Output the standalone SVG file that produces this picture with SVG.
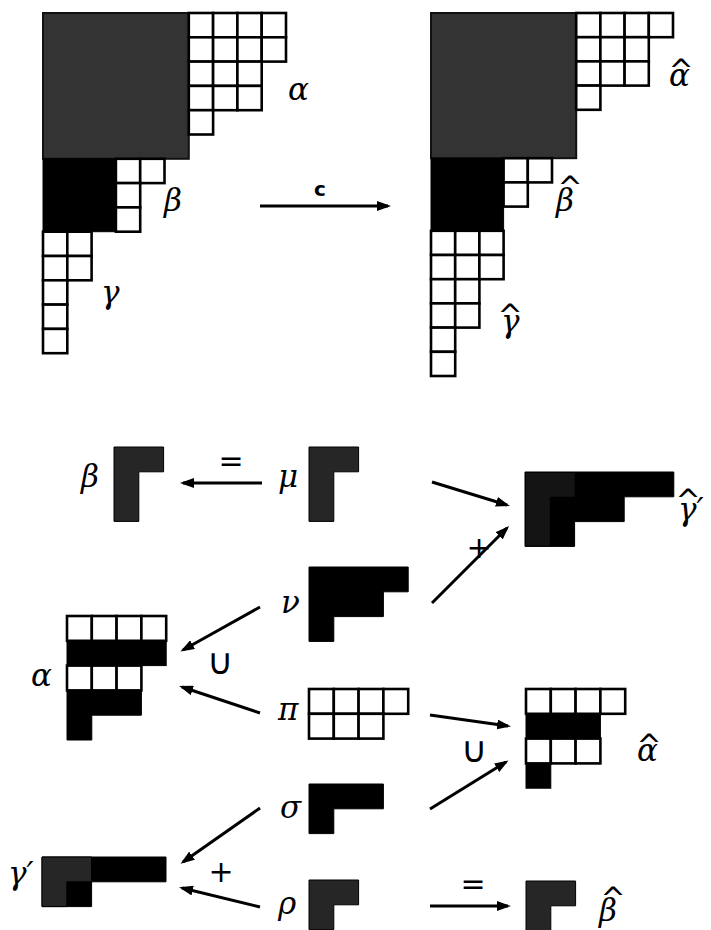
<svg xmlns="http://www.w3.org/2000/svg" width="711" height="930" viewBox="0 0 711 930">
<style>
.w{fill:#fff;stroke:#000;stroke-width:2.6}
.k{fill:#000;stroke:#000;stroke-width:1}
.g{fill:#333;stroke:#111;stroke-width:2}
.gd{fill:#262626;stroke:#000;stroke-width:1}
.gs{fill:#141414;stroke:none}
.lbl{font-family:"DejaVu Serif",serif;font-style:italic;font-size:31px;fill:#000}
.hat{font-family:"DejaVu Sans",sans-serif;font-style:normal;font-size:30px;text-anchor:middle}
.sym{font-family:"DejaVu Sans",sans-serif;font-size:30px;fill:#000;text-anchor:middle}
.cup{font-family:"DejaVu Sans",sans-serif;font-size:36px;fill:#000;text-anchor:middle}
.c{font-family:"DejaVu Sans",sans-serif;font-weight:bold;font-size:20px;fill:#000;text-anchor:middle}
.ar{stroke:#000;stroke-width:3;fill:none;marker-end:url(#ah)}
</style>
<defs>
<marker id="ah" markerUnits="userSpaceOnUse" markerWidth="14" markerHeight="10" refX="11" refY="5" orient="auto">
<path d="M0,0 L14,5 L0,10 z" fill="#000"/>
</marker>
</defs>
<rect x="0" y="0" width="711" height="930" fill="#fff"/>

<!-- Top left diagram -->
<g id="top-left">
<rect class="g" x="43" y="13" width="145.8" height="145.8"/>
<g id="tl-alpha">
<rect class="w" x="188.8" y="13" width="24.3" height="24.3"/><rect class="w" x="213.1" y="13" width="24.3" height="24.3"/><rect class="w" x="237.4" y="13" width="24.3" height="24.3"/><rect class="w" x="261.7" y="13" width="24.3" height="24.3"/>
<rect class="w" x="188.8" y="37.3" width="24.3" height="24.3"/><rect class="w" x="213.1" y="37.3" width="24.3" height="24.3"/><rect class="w" x="237.4" y="37.3" width="24.3" height="24.3"/><rect class="w" x="261.7" y="37.3" width="24.3" height="24.3"/>
<rect class="w" x="188.8" y="61.6" width="24.3" height="24.3"/><rect class="w" x="213.1" y="61.6" width="24.3" height="24.3"/><rect class="w" x="237.4" y="61.6" width="24.3" height="24.3"/>
<rect class="w" x="188.8" y="85.9" width="24.3" height="24.3"/><rect class="w" x="213.1" y="85.9" width="24.3" height="24.3"/><rect class="w" x="237.4" y="85.9" width="24.3" height="24.3"/>
<rect class="w" x="188.8" y="110.2" width="24.3" height="24.3"/>
</g>
<rect class="k" x="43" y="158.8" width="72.9" height="72.9"/>
<g id="tl-beta">
<rect class="w" x="115.9" y="158.8" width="24.3" height="24.3"/><rect class="w" x="140.2" y="158.8" width="24.3" height="24.3"/>
<rect class="w" x="115.9" y="183.1" width="24.3" height="24.3"/>
<rect class="w" x="115.9" y="207.4" width="24.3" height="24.3"/>
</g>
<g id="tl-gamma">
<rect class="w" x="43" y="231.7" width="24.3" height="24.3"/><rect class="w" x="67.3" y="231.7" width="24.3" height="24.3"/>
<rect class="w" x="43" y="256" width="24.3" height="24.3"/><rect class="w" x="67.3" y="256" width="24.3" height="24.3"/>
<rect class="w" x="43" y="280.3" width="24.3" height="24.3"/>
<rect class="w" x="43" y="304.6" width="24.3" height="24.3"/>
<rect class="w" x="43" y="328.9" width="24.3" height="24.3"/>
</g>
<text class="lbl" x="288" y="100">α</text>
<text class="lbl" x="164" y="211">β</text>
<text class="lbl" x="101" y="303">γ</text>
</g>

<!-- Top right diagram -->
<g id="top-right">
<rect class="g" x="431" y="13" width="145.2" height="145.2"/>
<g id="tr-alpha">
<rect class="w" x="576.2" y="13" width="24.2" height="24.2"/><rect class="w" x="600.4" y="13" width="24.2" height="24.2"/><rect class="w" x="624.6" y="13" width="24.2" height="24.2"/><rect class="w" x="648.8" y="13" width="24.2" height="24.2"/>
<rect class="w" x="576.2" y="37.2" width="24.2" height="24.2"/><rect class="w" x="600.4" y="37.2" width="24.2" height="24.2"/><rect class="w" x="624.6" y="37.2" width="24.2" height="24.2"/>
<rect class="w" x="576.2" y="61.4" width="24.2" height="24.2"/><rect class="w" x="600.4" y="61.4" width="24.2" height="24.2"/><rect class="w" x="624.6" y="61.4" width="24.2" height="24.2"/>
<rect class="w" x="576.2" y="85.6" width="24.2" height="24.2"/>
</g>
<rect class="k" x="431" y="158.2" width="72.6" height="72.6"/>
<g id="tr-beta">
<rect class="w" x="503.6" y="158.2" width="24.2" height="24.2"/><rect class="w" x="527.8" y="158.2" width="24.2" height="24.2"/>
<rect class="w" x="503.6" y="182.4" width="24.2" height="24.2"/>
</g>
<g id="tr-gamma">
<rect class="w" x="431" y="230.8" width="24.2" height="24.2"/><rect class="w" x="455.2" y="230.8" width="24.2" height="24.2"/><rect class="w" x="479.4" y="230.8" width="24.2" height="24.2"/>
<rect class="w" x="431" y="255" width="24.2" height="24.2"/><rect class="w" x="455.2" y="255" width="24.2" height="24.2"/><rect class="w" x="479.4" y="255" width="24.2" height="24.2"/>
<rect class="w" x="431" y="279.2" width="24.2" height="24.2"/><rect class="w" x="455.2" y="279.2" width="24.2" height="24.2"/>
<rect class="w" x="431" y="303.4" width="24.2" height="24.2"/><rect class="w" x="455.2" y="303.4" width="24.2" height="24.2"/>
<rect class="w" x="431" y="327.6" width="24.2" height="24.2"/>
<rect class="w" x="431" y="351.8" width="24.2" height="24.2"/>
</g>
<text class="lbl" x="669" y="86">α<tspan class="hat" x="681" y="81">^</tspan></text>
<text class="lbl" x="556" y="211">β<tspan class="hat" x="570" y="198">^</tspan></text>
<text class="lbl" x="501" y="332">γ<tspan class="hat" x="510" y="326">^</tspan></text>
</g>

<!-- Bottom nodes -->
<g id="beta">
<polygon class="gd" points="114,447 163.6,447 163.6,471.8 138.8,471.8 138.8,521.4 114,521.4"/>
<text class="lbl" x="81" y="487">β</text>
</g>
<g id="mu">
<polygon class="gd" points="309,447 358.6,447 358.6,471.8 333.8,471.8 333.8,521.4 309,521.4"/>
<text class="lbl" x="278" y="487">μ</text>
</g>
<g id="nu">
<polygon class="k" points="309,567 408.2,567 408.2,591.8 383.4,591.8 383.4,616.6 333.8,616.6 333.8,641.4 309,641.4"/>
<text class="lbl" x="281" y="613">ν</text>
</g>
<g id="pi">
<rect class="w" x="309" y="689" width="24.8" height="24.8"/><rect class="w" x="333.8" y="689" width="24.8" height="24.8"/><rect class="w" x="358.6" y="689" width="24.8" height="24.8"/><rect class="w" x="383.4" y="689" width="24.8" height="24.8"/>
<rect class="w" x="309" y="713.8" width="24.8" height="24.8"/><rect class="w" x="333.8" y="713.8" width="24.8" height="24.8"/><rect class="w" x="358.6" y="713.8" width="24.8" height="24.8"/>
<text class="lbl" x="278" y="720">π</text>
</g>
<g id="sigma">
<polygon class="k" points="309,784 383.4,784 383.4,808.8 333.8,808.8 333.8,833.6 309,833.6"/>
<text class="lbl" x="280" y="818">σ</text>
</g>
<g id="rho">
<polygon class="gd" points="309,880 358.6,880 358.6,904.8 333.8,904.8 333.8,929.6 309,929.6"/>
<text class="lbl" x="278" y="914">ρ</text>
</g>
<g id="alpha">
<rect class="w" x="67" y="616" width="24.8" height="24.8"/><rect class="w" x="91.8" y="616" width="24.8" height="24.8"/><rect class="w" x="116.6" y="616" width="24.8" height="24.8"/><rect class="w" x="141.4" y="616" width="24.8" height="24.8"/>
<rect class="k" x="67" y="640.8" width="99.2" height="24.8"/>
<rect class="w" x="67" y="665.6" width="24.8" height="24.8"/><rect class="w" x="91.8" y="665.6" width="24.8" height="24.8"/><rect class="w" x="116.6" y="665.6" width="24.8" height="24.8"/>
<polygon class="k" points="67,690.4 141.4,690.4 141.4,715.2 91.8,715.2 91.8,740 67,740"/>
<text class="lbl" x="31" y="686">α</text>
</g>
<g id="gamma-prime">
<polygon class="k" points="42,857 166,857 166,881.8 91.6,881.8 91.6,906.6 42,906.6"/>
<polygon class="gd" points="42,857 91.6,857 91.6,881.8 66.8,881.8 66.8,906.6 42,906.6"/>
<text class="lbl" x="8" y="884">γ′</text>
</g>
<g id="gamma-hat-prime">
<polygon class="k" points="525,472 673.8,472 673.8,496.8 624.2,496.8 624.2,521.6 574.6,521.6 574.6,546.4 525,546.4"/>
<polygon class="gs" points="526,473 574.6,473 574.6,496.8 549.8,496.8 549.8,545.4 526,545.4"/>
<text class="lbl" x="678" y="520">γ′<tspan class="hat" x="688" y="511">^</tspan></text>
</g>
<g id="alpha-hat">
<rect class="w" x="526" y="689" width="24.8" height="24.8"/><rect class="w" x="550.8" y="689" width="24.8" height="24.8"/><rect class="w" x="575.6" y="689" width="24.8" height="24.8"/><rect class="w" x="600.4" y="689" width="24.8" height="24.8"/>
<rect class="k" x="526" y="713.8" width="74.4" height="24.8"/>
<rect class="w" x="526" y="738.6" width="24.8" height="24.8"/><rect class="w" x="550.8" y="738.6" width="24.8" height="24.8"/><rect class="w" x="575.6" y="738.6" width="24.8" height="24.8"/>
<rect class="k" x="526" y="763.4" width="24.8" height="24.8"/>
<text class="lbl" x="637" y="761">α<tspan class="hat" x="649" y="756">^</tspan></text>
</g>
<g id="beta-hat">
<polygon class="gd" points="526,881 575.6,881 575.6,905.8 550.8,905.8 550.8,930.6 526,930.6"/>
<text class="lbl" x="599" y="921">β<tspan class="hat" x="613" y="909">^</tspan></text>
</g>

<!-- Connectors -->
<g id="connectors">
<line class="ar" x1="260" y1="206" x2="388" y2="206"/>
<text class="c" x="320" y="196">c</text>
<line class="ar" x1="262" y1="483" x2="183" y2="483"/>
<line class="ar" x1="432" y1="482" x2="507" y2="505"/>
<line class="ar" x1="432" y1="603" x2="507" y2="528"/>
<line class="ar" x1="260" y1="607" x2="183" y2="650"/>
<line class="ar" x1="260" y1="713" x2="182" y2="687"/>
<line class="ar" x1="430" y1="715" x2="508" y2="726"/>
<line class="ar" x1="430" y1="809" x2="506" y2="762"/>
<line class="ar" x1="260" y1="808" x2="183" y2="862"/>
<line class="ar" x1="260" y1="907" x2="182" y2="888"/>
<line class="ar" x1="430" y1="906" x2="508" y2="906"/>
<text class="sym" x="231" y="471">=</text>
<text class="cup" x="220" y="674">∪</text>
<text class="sym" x="221" y="882">+</text>
<text class="sym" x="479" y="558">+</text>
<text class="cup" x="474" y="762">∪</text>
<text class="sym" x="473" y="894">=</text>
</g>
</svg>
